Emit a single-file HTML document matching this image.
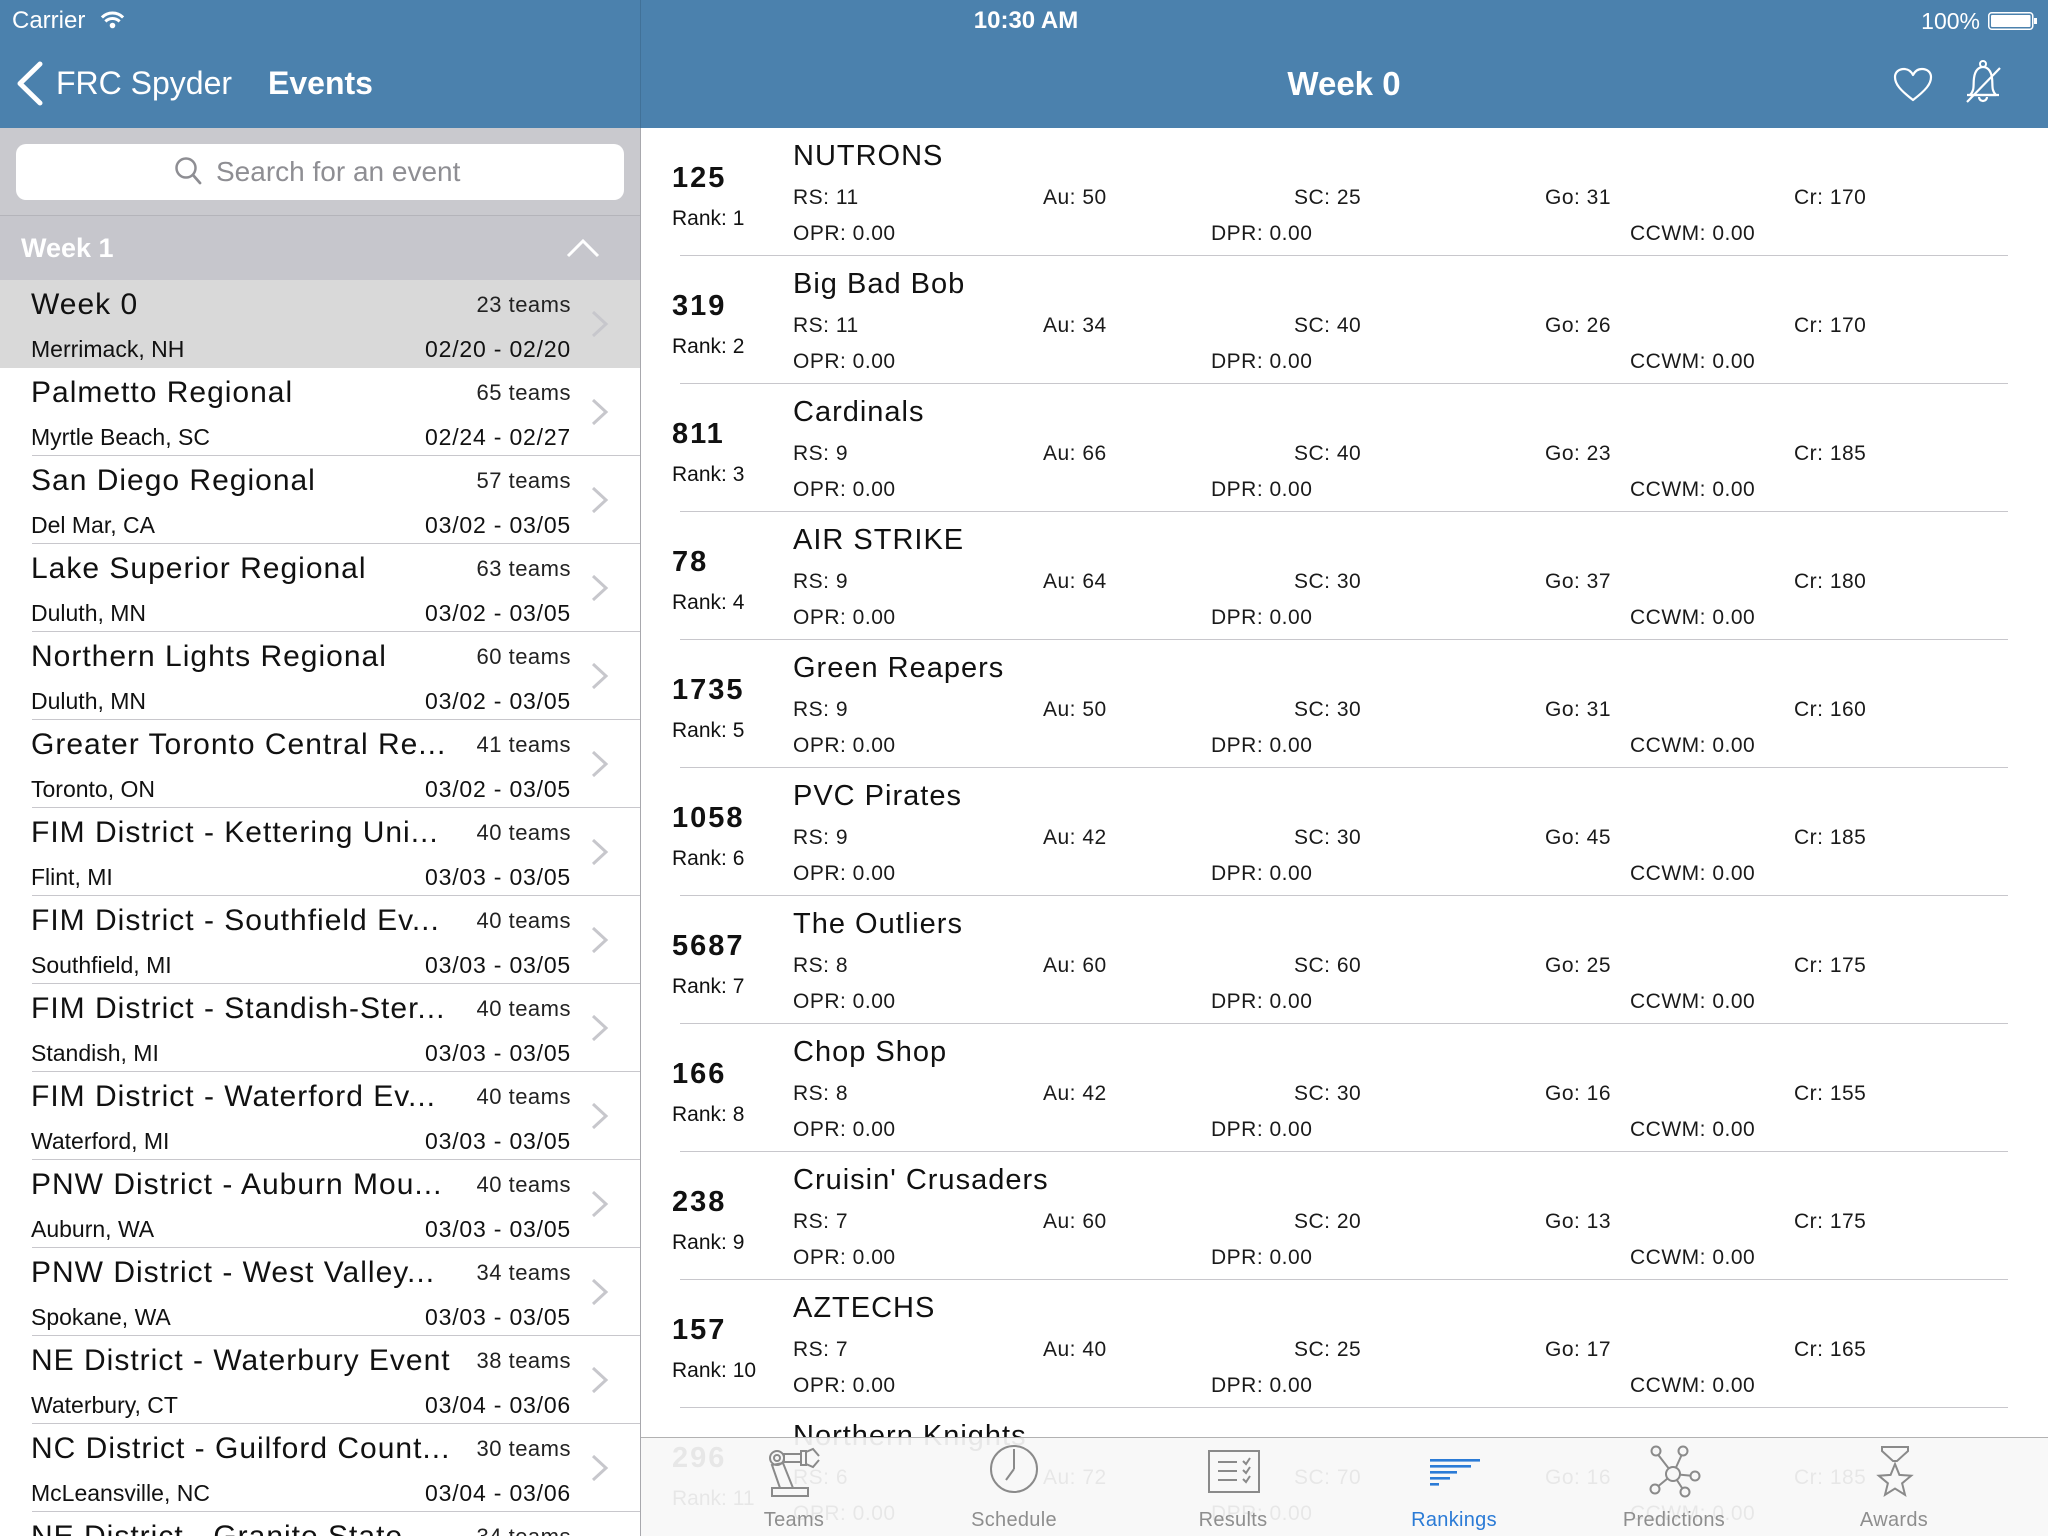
<!DOCTYPE html>
<html><head><meta charset="utf-8">
<style>
*{margin:0;padding:0;box-sizing:border-box}
html,body{width:2048px;height:1536px;overflow:hidden;background:#fff;font-family:"Liberation Sans",Arial,sans-serif;color:#111}
#root{position:relative;width:2048px;height:1536px;overflow:hidden;background:#fff}
.a{position:absolute;white-space:nowrap;line-height:1}
#top{position:absolute;left:0;top:0;width:2048px;height:128px;background:#4b81ad}
.lr{position:absolute;left:0;width:640px;height:88px;background:#fff}
.lr .sep{position:absolute;left:32px;right:0;bottom:0;height:1px;background:#c8c7cc}
.lt{position:absolute;left:31px;top:10px;font-size:30px;letter-spacing:1px;white-space:nowrap;line-height:1;color:#111}
.ln{position:absolute;right:69px;top:14px;font-size:22px;letter-spacing:.5px;white-space:nowrap;line-height:1;color:#222}
.ll{position:absolute;left:31px;top:58px;font-size:23px;white-space:nowrap;line-height:1;color:#111}
.ld{position:absolute;right:69px;top:58px;font-size:23px;letter-spacing:.8px;white-space:nowrap;line-height:1;color:#111}
.lr svg{position:absolute;left:590px;top:31px}
.r{position:absolute;left:640px;width:1408px;height:128px}
.r div{position:absolute;white-space:nowrap;line-height:1}
.num{left:32px;top:36px;font-size:29px;font-weight:bold;letter-spacing:2px;color:#111}
.rk{left:32px;top:80px;font-size:21px;color:#111}
.nm{left:153px;top:14px;font-size:29px;letter-spacing:1px;color:#111}
.s{top:59px;font-size:21px;letter-spacing:.5px;color:#1a1a1a}
.t{top:95px;font-size:21px;letter-spacing:.5px;color:#1a1a1a}
.c1{left:153px}.c2{left:403px}.c3{left:654px}.c4{left:905px}.c5{left:1154px}
.d2{left:571px}.d3{left:990px}
.r .sp{left:40px;top:127px;width:1328px;height:1px;background:#c8c7cc}
.tl{position:absolute;top:1510px;width:200px;text-align:center;font-size:20px;letter-spacing:.3px;color:#8e8e8e;line-height:1}
</style></head><body><div id="root">

<div id="top"></div>
<!-- status bar -->
<div class="a" style="left:12px;top:9px;font-size:24px;color:#fff">Carrier</div>
<svg class="a" style="left:0;top:0" width="140" height="40">
<path d="M101.9,17.4 A15,15 0 0 1 123.1,17.4" fill="none" stroke="#fff" stroke-width="3"/>
<path d="M105.4,21.4 A10,10 0 0 1 119.6,21.4" fill="none" stroke="#fff" stroke-width="3"/>
<circle cx="112.5" cy="25.5" r="2.8" fill="#fff"/>
</svg>
<div class="a" style="left:926px;top:9px;width:200px;text-align:center;font-size:24px;font-weight:bold;color:#fff">10:30 AM</div>
<div class="a" style="left:1880px;top:10px;width:100px;text-align:right;font-size:23px;color:#fff">100%</div>
<svg class="a" style="left:1980px;top:0" width="68" height="40">
<rect x="8.75" y="12.75" width="44" height="16.5" rx="3" fill="none" stroke="#fff" stroke-width="1.5"/>
<rect x="11" y="15" width="39.5" height="12" rx="1" fill="#fff"/>
<rect x="54" y="18" width="3" height="6" fill="#fff"/>
</svg>

<!-- nav bar left -->
<svg class="a" style="left:0;top:40px" width="60" height="88">
<polyline points="40,24 20,43.5 40,63" fill="none" stroke="#fff" stroke-width="5" stroke-linecap="round" stroke-linejoin="round"/>
</svg>
<div class="a" style="left:56px;top:67px;font-size:32px;color:#fff">FRC Spyder</div>
<div class="a" style="left:268px;top:67px;font-size:32px;font-weight:bold;color:#fff">Events</div>
<!-- nav bar right -->
<div class="a" style="left:1144px;top:67px;width:400px;text-align:center;font-size:33px;font-weight:bold;color:#fff">Week 0</div>
<svg class="a" style="left:1880px;top:50px" width="140" height="70">
<path d="M33,50 C20,40 15,34 15,27 C15,22 19,19 24,19 C28,19 31,21 33,25 C35,21 38,19 42,19 C47,19 51,22 51,27 C51,34 46,40 33,50 Z" fill="none" stroke="#fff" stroke-width="2.2" stroke-linejoin="round"/>
<circle cx="103" cy="14" r="3" fill="none" stroke="#fff" stroke-width="2"/>
<path d="M90,45 C95,40 93,35 94,28 C95,20 99,17 103,17 C107,17 111,20 112,28 C113,35 111,40 116,45 Z" fill="none" stroke="#fff" stroke-width="2.2" stroke-linejoin="round"/>
<line x1="87" y1="45" x2="119" y2="45" stroke="#fff" stroke-width="2.2"/>
<path d="M99,47 A4,4 0 0 0 107,47" fill="none" stroke="#fff" stroke-width="2.2"/>
<line x1="87" y1="52" x2="120" y2="18" stroke="#fff" stroke-width="2.2"/>
</svg>

<!-- search area -->
<div class="a" style="left:0;top:128px;width:640px;height:88px;background:#c9c9ce"></div>
<div class="a" style="left:0;top:215px;width:640px;height:1px;background:#b4b4ba"></div>
<div class="a" style="left:16px;top:144px;width:608px;height:56px;background:#fff;border-radius:10px"></div>
<svg class="a" style="left:170px;top:152px" width="40" height="40">
<circle cx="16" cy="16" r="9.5" fill="none" stroke="#8e8e93" stroke-width="2.5"/>
<line x1="23" y1="23" x2="30" y2="31" stroke="#8e8e93" stroke-width="2.8" stroke-linecap="round"/>
</svg>
<div class="a" style="left:216px;top:158px;font-size:28px;color:#8e8e93">Search for an event</div>
<!-- section header -->
<div class="a" style="left:0;top:216px;width:640px;height:64px;background:#c6c6cc"></div>
<div class="a" style="left:21px;top:235px;font-size:27px;font-weight:bold;color:#fff">Week 1</div>
<svg class="a" style="left:560px;top:234px" width="46" height="30">
<polyline points="8,22 23,7 38,22" fill="none" stroke="#fff" stroke-width="3"/>
</svg>

<!-- left list -->
<div class="lr" style="top:280px;background:#d9d9d9"><div class="lt">Week 0</div><div class="ln">23 teams</div><div class="ll">Merrimack, NH</div><div class="ld">02/20 - 02/20</div><svg width="20" height="26"><polyline points="3,1 16,13 3,25" fill="none" stroke="#c7c7cc" stroke-width="3"/></svg></div>
<div class="lr" style="top:368px"><div class="lt">Palmetto Regional</div><div class="ln">65 teams</div><div class="ll">Myrtle Beach, SC</div><div class="ld">02/24 - 02/27</div><svg width="20" height="26"><polyline points="3,1 16,13 3,25" fill="none" stroke="#c7c7cc" stroke-width="3"/></svg><div class="sep"></div></div>
<div class="lr" style="top:456px"><div class="lt">San Diego Regional</div><div class="ln">57 teams</div><div class="ll">Del Mar, CA</div><div class="ld">03/02 - 03/05</div><svg width="20" height="26"><polyline points="3,1 16,13 3,25" fill="none" stroke="#c7c7cc" stroke-width="3"/></svg><div class="sep"></div></div>
<div class="lr" style="top:544px"><div class="lt">Lake Superior Regional</div><div class="ln">63 teams</div><div class="ll">Duluth, MN</div><div class="ld">03/02 - 03/05</div><svg width="20" height="26"><polyline points="3,1 16,13 3,25" fill="none" stroke="#c7c7cc" stroke-width="3"/></svg><div class="sep"></div></div>
<div class="lr" style="top:632px"><div class="lt">Northern Lights Regional</div><div class="ln">60 teams</div><div class="ll">Duluth, MN</div><div class="ld">03/02 - 03/05</div><svg width="20" height="26"><polyline points="3,1 16,13 3,25" fill="none" stroke="#c7c7cc" stroke-width="3"/></svg><div class="sep"></div></div>
<div class="lr" style="top:720px"><div class="lt">Greater Toronto Central Re...</div><div class="ln">41 teams</div><div class="ll">Toronto, ON</div><div class="ld">03/02 - 03/05</div><svg width="20" height="26"><polyline points="3,1 16,13 3,25" fill="none" stroke="#c7c7cc" stroke-width="3"/></svg><div class="sep"></div></div>
<div class="lr" style="top:808px"><div class="lt">FIM District - Kettering Uni...</div><div class="ln">40 teams</div><div class="ll">Flint, MI</div><div class="ld">03/03 - 03/05</div><svg width="20" height="26"><polyline points="3,1 16,13 3,25" fill="none" stroke="#c7c7cc" stroke-width="3"/></svg><div class="sep"></div></div>
<div class="lr" style="top:896px"><div class="lt">FIM District - Southfield Ev...</div><div class="ln">40 teams</div><div class="ll">Southfield, MI</div><div class="ld">03/03 - 03/05</div><svg width="20" height="26"><polyline points="3,1 16,13 3,25" fill="none" stroke="#c7c7cc" stroke-width="3"/></svg><div class="sep"></div></div>
<div class="lr" style="top:984px"><div class="lt">FIM District - Standish-Ster...</div><div class="ln">40 teams</div><div class="ll">Standish, MI</div><div class="ld">03/03 - 03/05</div><svg width="20" height="26"><polyline points="3,1 16,13 3,25" fill="none" stroke="#c7c7cc" stroke-width="3"/></svg><div class="sep"></div></div>
<div class="lr" style="top:1072px"><div class="lt">FIM District - Waterford Ev...</div><div class="ln">40 teams</div><div class="ll">Waterford, MI</div><div class="ld">03/03 - 03/05</div><svg width="20" height="26"><polyline points="3,1 16,13 3,25" fill="none" stroke="#c7c7cc" stroke-width="3"/></svg><div class="sep"></div></div>
<div class="lr" style="top:1160px"><div class="lt">PNW District - Auburn Mou...</div><div class="ln">40 teams</div><div class="ll">Auburn, WA</div><div class="ld">03/03 - 03/05</div><svg width="20" height="26"><polyline points="3,1 16,13 3,25" fill="none" stroke="#c7c7cc" stroke-width="3"/></svg><div class="sep"></div></div>
<div class="lr" style="top:1248px"><div class="lt">PNW District - West Valley...</div><div class="ln">34 teams</div><div class="ll">Spokane, WA</div><div class="ld">03/03 - 03/05</div><svg width="20" height="26"><polyline points="3,1 16,13 3,25" fill="none" stroke="#c7c7cc" stroke-width="3"/></svg><div class="sep"></div></div>
<div class="lr" style="top:1336px"><div class="lt">NE District - Waterbury Event</div><div class="ln">38 teams</div><div class="ll">Waterbury, CT</div><div class="ld">03/04 - 03/06</div><svg width="20" height="26"><polyline points="3,1 16,13 3,25" fill="none" stroke="#c7c7cc" stroke-width="3"/></svg><div class="sep"></div></div>
<div class="lr" style="top:1424px"><div class="lt">NC District - Guilford Count...</div><div class="ln">30 teams</div><div class="ll">McLeansville, NC</div><div class="ld">03/04 - 03/06</div><svg width="20" height="26"><polyline points="3,1 16,13 3,25" fill="none" stroke="#c7c7cc" stroke-width="3"/></svg><div class="sep"></div></div>
<div class="lr" style="top:1512px;height:24px;overflow:hidden"><div class="lt">NE District - Granite State</div><div class="ln">34 teams</div></div>

<!-- right rows -->
<div class="r" style="top:128px"><div class="num">125</div><div class="rk">Rank: 1</div><div class="nm">NUTRONS</div><div class="s c1">RS: 11</div><div class="s c2">Au: 50</div><div class="s c3">SC: 25</div><div class="s c4">Go: 31</div><div class="s c5">Cr: 170</div><div class="t c1">OPR: 0.00</div><div class="t d2">DPR: 0.00</div><div class="t d3">CCWM: 0.00</div><div class="sp"></div></div>
<div class="r" style="top:256px"><div class="num">319</div><div class="rk">Rank: 2</div><div class="nm">Big Bad Bob</div><div class="s c1">RS: 11</div><div class="s c2">Au: 34</div><div class="s c3">SC: 40</div><div class="s c4">Go: 26</div><div class="s c5">Cr: 170</div><div class="t c1">OPR: 0.00</div><div class="t d2">DPR: 0.00</div><div class="t d3">CCWM: 0.00</div><div class="sp"></div></div>
<div class="r" style="top:384px"><div class="num">811</div><div class="rk">Rank: 3</div><div class="nm">Cardinals</div><div class="s c1">RS: 9</div><div class="s c2">Au: 66</div><div class="s c3">SC: 40</div><div class="s c4">Go: 23</div><div class="s c5">Cr: 185</div><div class="t c1">OPR: 0.00</div><div class="t d2">DPR: 0.00</div><div class="t d3">CCWM: 0.00</div><div class="sp"></div></div>
<div class="r" style="top:512px"><div class="num">78</div><div class="rk">Rank: 4</div><div class="nm">AIR STRIKE</div><div class="s c1">RS: 9</div><div class="s c2">Au: 64</div><div class="s c3">SC: 30</div><div class="s c4">Go: 37</div><div class="s c5">Cr: 180</div><div class="t c1">OPR: 0.00</div><div class="t d2">DPR: 0.00</div><div class="t d3">CCWM: 0.00</div><div class="sp"></div></div>
<div class="r" style="top:640px"><div class="num">1735</div><div class="rk">Rank: 5</div><div class="nm">Green Reapers</div><div class="s c1">RS: 9</div><div class="s c2">Au: 50</div><div class="s c3">SC: 30</div><div class="s c4">Go: 31</div><div class="s c5">Cr: 160</div><div class="t c1">OPR: 0.00</div><div class="t d2">DPR: 0.00</div><div class="t d3">CCWM: 0.00</div><div class="sp"></div></div>
<div class="r" style="top:768px"><div class="num">1058</div><div class="rk">Rank: 6</div><div class="nm">PVC Pirates</div><div class="s c1">RS: 9</div><div class="s c2">Au: 42</div><div class="s c3">SC: 30</div><div class="s c4">Go: 45</div><div class="s c5">Cr: 185</div><div class="t c1">OPR: 0.00</div><div class="t d2">DPR: 0.00</div><div class="t d3">CCWM: 0.00</div><div class="sp"></div></div>
<div class="r" style="top:896px"><div class="num">5687</div><div class="rk">Rank: 7</div><div class="nm">The Outliers</div><div class="s c1">RS: 8</div><div class="s c2">Au: 60</div><div class="s c3">SC: 60</div><div class="s c4">Go: 25</div><div class="s c5">Cr: 175</div><div class="t c1">OPR: 0.00</div><div class="t d2">DPR: 0.00</div><div class="t d3">CCWM: 0.00</div><div class="sp"></div></div>
<div class="r" style="top:1024px"><div class="num">166</div><div class="rk">Rank: 8</div><div class="nm">Chop Shop</div><div class="s c1">RS: 8</div><div class="s c2">Au: 42</div><div class="s c3">SC: 30</div><div class="s c4">Go: 16</div><div class="s c5">Cr: 155</div><div class="t c1">OPR: 0.00</div><div class="t d2">DPR: 0.00</div><div class="t d3">CCWM: 0.00</div><div class="sp"></div></div>
<div class="r" style="top:1152px"><div class="num">238</div><div class="rk">Rank: 9</div><div class="nm">Cruisin' Crusaders</div><div class="s c1">RS: 7</div><div class="s c2">Au: 60</div><div class="s c3">SC: 20</div><div class="s c4">Go: 13</div><div class="s c5">Cr: 175</div><div class="t c1">OPR: 0.00</div><div class="t d2">DPR: 0.00</div><div class="t d3">CCWM: 0.00</div><div class="sp"></div></div>
<div class="r" style="top:1280px"><div class="num">157</div><div class="rk">Rank: 10</div><div class="nm">AZTECHS</div><div class="s c1">RS: 7</div><div class="s c2">Au: 40</div><div class="s c3">SC: 25</div><div class="s c4">Go: 17</div><div class="s c5">Cr: 165</div><div class="t c1">OPR: 0.00</div><div class="t d2">DPR: 0.00</div><div class="t d3">CCWM: 0.00</div><div class="sp"></div></div>
<div class="r" style="top:1408px"><div class="num">296</div><div class="rk">Rank: 11</div><div class="nm">Northern Knights</div><div class="s c1">RS: 6</div><div class="s c2">Au: 72</div><div class="s c3">SC: 70</div><div class="s c4">Go: 16</div><div class="s c5">Cr: 185</div><div class="t c1">OPR: 0.00</div><div class="t d2">DPR: 0.00</div><div class="t d3">CCWM: 0.00</div></div>

<!-- pane divider -->
<div class="a" style="left:640px;top:0;width:1px;height:128px;background:rgba(0,0,0,0.12)"></div>
<div class="a" style="left:640px;top:128px;width:1px;height:1408px;background:#a8a8ad"></div>

<!-- tab bar -->
<div class="a" style="left:641px;top:1437px;width:1407px;height:99px;background:rgba(247,247,247,0.93);border-top:1px solid #b2b2b2"></div>
<svg class="a" style="left:641px;top:1437px" width="1407" height="99" viewBox="641 1437 1407 99">
<g fill="none" stroke="#8a8a8a" stroke-width="2">
<rect x="772" y="1488" width="36" height="8"/>
<polygon points="780,1488 793,1488 783,1463 772,1465"/>
<circle cx="777" cy="1458" r="7"/><circle cx="777" cy="1458" r="3"/>
<rect x="784" y="1454" width="17" height="8"/>
<rect x="801" y="1451" width="5" height="14"/>
<polyline points="806,1452 813,1449 819,1456"/>
<polyline points="806,1464 813,1467 819,1460"/>
<circle cx="1014" cy="1469" r="23"/>
<line x1="1014" y1="1469" x2="1014" y2="1449"/>
<line x1="1014" y1="1469" x2="1006" y2="1480"/>
<rect x="1209" y="1451" width="50" height="41"/>
<line x1="1218" y1="1462" x2="1237" y2="1462"/>
<line x1="1218" y1="1471" x2="1237" y2="1471"/>
<line x1="1218" y1="1480" x2="1237" y2="1480"/>
<polyline points="1243,1461 1246,1464 1250,1458"/>
<polyline points="1243,1470 1246,1473 1250,1467"/>
<polyline points="1243,1479 1246,1482 1250,1476"/>
<line x1="1673" y1="1474" x2="1656" y2="1452"/>
<line x1="1673" y1="1474" x2="1683" y2="1452"/>
<line x1="1673" y1="1474" x2="1694" y2="1476"/>
<line x1="1673" y1="1474" x2="1656" y2="1488"/>
<line x1="1673" y1="1474" x2="1684" y2="1491"/>
<circle cx="1673" cy="1474" r="7" fill="#f7f7f7"/>
<circle cx="1656" cy="1451" r="4.5" fill="#f7f7f7"/>
<circle cx="1683" cy="1451" r="4.5" fill="#f7f7f7"/>
<circle cx="1695" cy="1476" r="4.5" fill="#f7f7f7"/>
<circle cx="1655" cy="1489" r="4.5" fill="#f7f7f7"/>
<circle cx="1685" cy="1492" r="4.5" fill="#f7f7f7"/>
<polygon points="1882,1447 1908,1447 1908,1451 1897,1461 1893,1461 1882,1451"/>
<polygon points="1895,1464 1899.4,1474.9 1911.2,1475.7 1902.1,1483.3 1905,1494.8 1895,1488.5 1885,1494.8 1887.9,1483.3 1878.8,1475.7 1890.6,1474.9"/>
</g>
<g fill="#2b7bd6">
<rect x="1430" y="1459" width="50" height="2.6"/>
<rect x="1430" y="1465" width="41" height="2.6"/>
<rect x="1430" y="1471" width="27" height="2.6"/>
<rect x="1430" y="1477" width="20" height="2.6"/>
<rect x="1430" y="1483" width="9" height="2.6"/>
</g>
</svg>
<div class="tl" style="left:694px">Teams</div>
<div class="tl" style="left:914px">Schedule</div>
<div class="tl" style="left:1133px">Results</div>
<div class="tl" style="left:1354px;color:#2b7bd6">Rankings</div>
<div class="tl" style="left:1574px">Predictions</div>
<div class="tl" style="left:1794px">Awards</div>

</div></body></html>
